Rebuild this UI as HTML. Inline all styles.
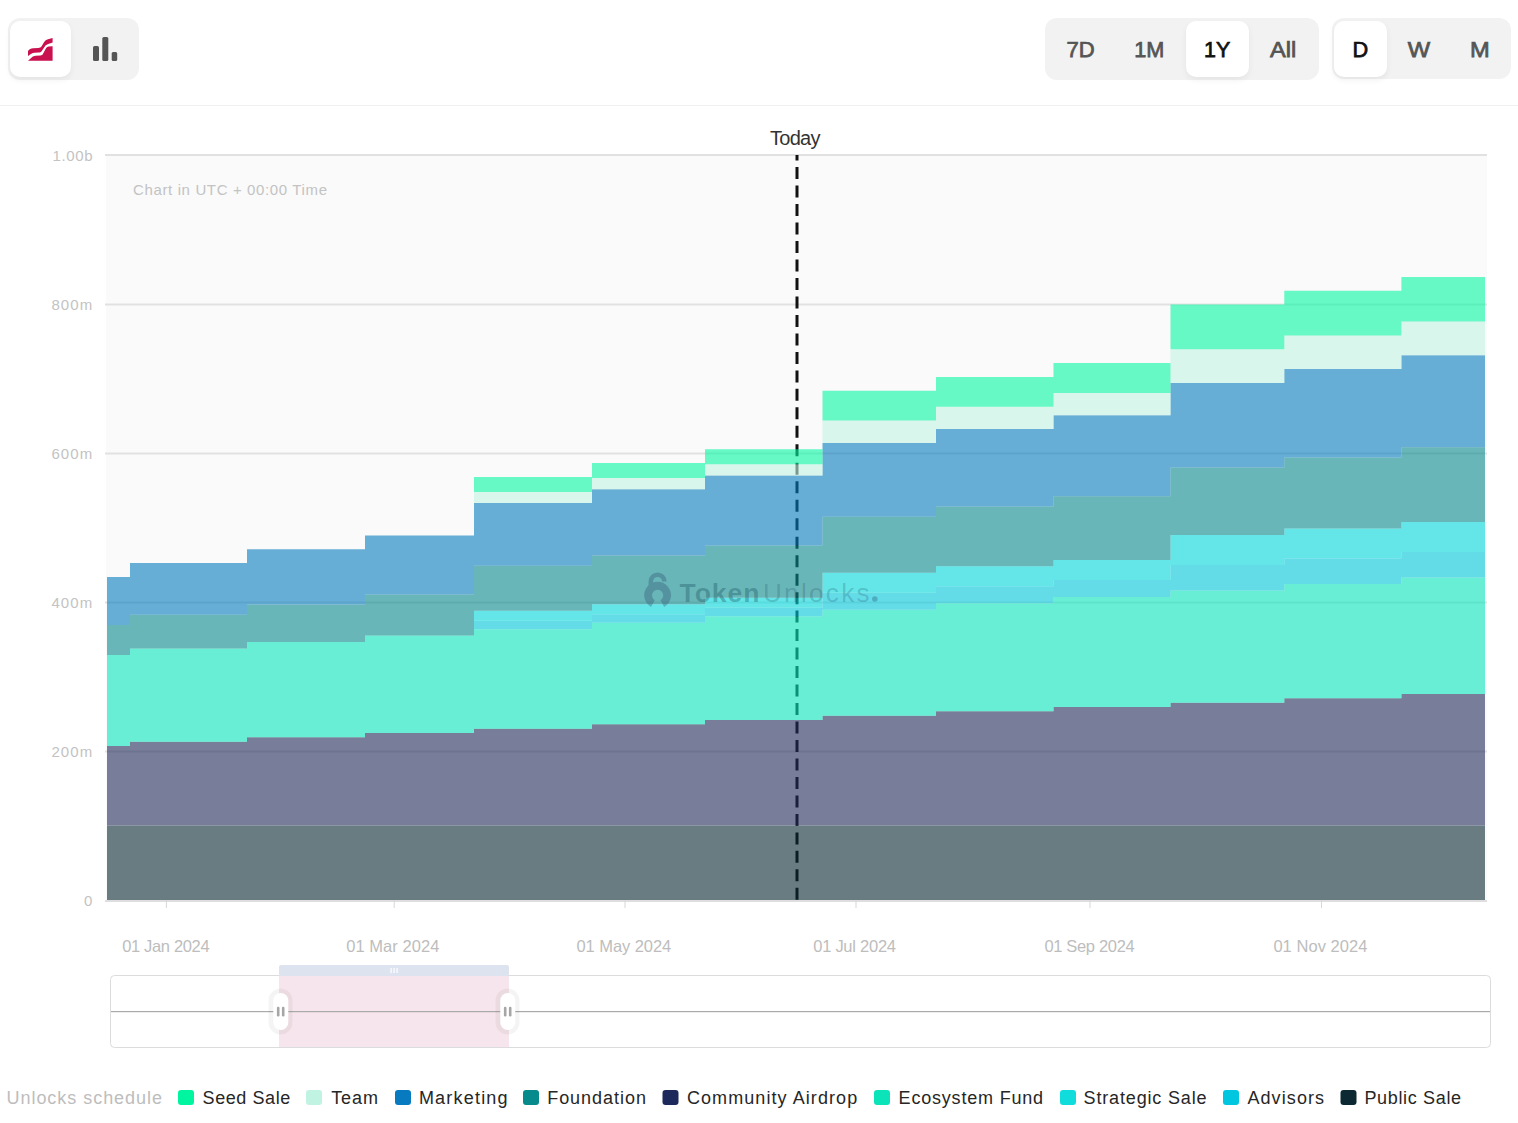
<!DOCTYPE html>
<html><head><meta charset="utf-8">
<style>
html,body{margin:0;padding:0;background:#fff;}
body{width:1518px;height:1123px;position:relative;overflow:hidden;font-family:"Liberation Sans",sans-serif;}
.grp{position:absolute;background:#f2f2f2;border-radius:12px;}
.sel{position:absolute;background:#fff;border-radius:10px;box-shadow:0 3px 6px rgba(0,0,0,0.06);}
.lbl{position:absolute;font-size:21px;font-weight:bold;color:#555;top:37px;line-height:24px;}
.lbl.on{color:#111;}
.sep{position:absolute;left:0;top:105px;width:1518px;height:1px;background:#efefef;}
svg{position:absolute;left:0;top:0;}
</style></head><body>
<div class="grp" style="left:8px;top:18px;width:131px;height:62px;"></div>
<div class="sel" style="left:10px;top:21px;width:61px;height:56px;"></div>
<svg width="1518" height="110" style="top:0">
<path fill="#c8114e" d="M28,51 C29.5,49.2 30.8,48.3 33,48.2 L38.3,48 C39.8,47.9 40.8,47.4 41.8,46 L44,42.2 C45,40.6 46.3,39.7 48,39.2 L52.6,38 L52.6,42.6 L48.2,44.1 C46.8,44.6 45.6,45.3 44.8,46.5 L41.6,51.2 C40.8,52.2 39.9,52.6 38.4,52.6 L34.5,52.7 C32.3,52.9 30.6,53.9 28,56 Z"/>
<path fill="#c8114e" d="M28,60.8 L32,57.2 C33.2,56.3 34.2,55.9 35.6,55.8 L40.6,55.5 C41.6,55.4 42.3,55 42.9,54 L45.6,49 C46.4,47.6 47.4,46.9 48.8,46.6 L52.6,46.2 L52.6,60.8 Z"/>
<rect x="93" y="46" width="6" height="15" rx="1.5" fill="#555"/>
<rect x="102.3" y="37" width="6" height="24" rx="1.5" fill="#555"/>
<rect x="111.7" y="52" width="5.5" height="9" rx="1.5" fill="#555"/>
</svg>
<div class="grp" style="left:1045px;top:18px;width:274px;height:62px;"></div>
<div class="sel" style="left:1186px;top:21px;width:63px;height:56px;"></div>
<div class="grp" style="left:1332px;top:18px;width:179px;height:61px;"></div>
<div class="sel" style="left:1334px;top:21px;width:53px;height:56px;"></div>
<svg width="1518" height="110" style="top:0">
<g font-family="Liberation Sans" font-size="22" stroke-width="0.75">
<text x="1066.5" y="56.6" textLength="28.2" lengthAdjust="spacingAndGlyphs" fill="#555" stroke="#555">7D</text>
<text x="1134.3" y="56.6" textLength="30.099999999999998" lengthAdjust="spacingAndGlyphs" fill="#555" stroke="#555">1M</text>
<text x="1204.1" y="56.6" textLength="26.2" lengthAdjust="spacingAndGlyphs" fill="#111" stroke="#111">1Y</text>
<text x="1270.0" y="56.6" textLength="26.2" lengthAdjust="spacingAndGlyphs" fill="#555" stroke="#555">All</text>
<text x="1352.5" y="56.6" textLength="15.700000000000001" lengthAdjust="spacingAndGlyphs" fill="#111" stroke="#111">D</text>
<text x="1407.8" y="56.6" textLength="22.4" lengthAdjust="spacingAndGlyphs" fill="#555" stroke="#555">W</text>
<text x="1470.1" y="56.6" textLength="19.7" lengthAdjust="spacingAndGlyphs" fill="#555" stroke="#555">M</text>
</g>
</svg>
<div class="sep"></div>

<svg width="1518" height="1123" style="top:0">
<rect x="106" y="156" width="1381" height="744" fill="#fafafa"/>
<rect x="105" y="154" width="1382" height="2" fill="#e1e1e1"/>
<rect x="105" y="303.5" width="1382" height="2" fill="#e1e1e1"/>
<rect x="105" y="452.5" width="1382" height="2" fill="#e1e1e1"/>
<rect x="105" y="601.5" width="1382" height="2" fill="#e1e1e1"/>
<rect x="105" y="750.5" width="1382" height="2" fill="#e1e1e1"/>
<line x1="797" y1="155" x2="797" y2="900" stroke="#111" stroke-width="3" stroke-dasharray="12 6.48" stroke-dashoffset="6.38"/>
<g fill-opacity="0.6">
<path fill="#072832" d="M107,825.5L130,825.5L130,825.5L247,825.5L247,825.5L365,825.5L365,825.5L474,825.5L474,825.5L592,825.5L592,825.5L705,825.5L705,825.5L822.5,825.5L822.5,825.5L936,825.5L936,825.5L1053.5,825.5L1053.5,825.5L1170.5,825.5L1170.5,825.5L1284.3,825.5L1284.3,825.5L1401.4,825.5L1401.4,825.5L1485,825.5L1485,900L107,900Z"/>
<path fill="#212b58" d="M107,746.0L130,746.0L130,741.7L247,741.7L247,737.3L365,737.3L365,733.0L474,733.0L474,728.7L592,728.7L592,724.3L705,724.3L705,720.0L822.5,720.0L822.5,715.7L936,715.7L936,711.3L1053.5,711.3L1053.5,707.0L1170.5,707.0L1170.5,702.7L1284.3,702.7L1284.3,698.3L1401.4,698.3L1401.4,694.0L1485,694.0L1485,825.5L1401.4,825.5L1401.4,825.5L1284.3,825.5L1284.3,825.5L1170.5,825.5L1170.5,825.5L1053.5,825.5L1053.5,825.5L936,825.5L936,825.5L822.5,825.5L822.5,825.5L705,825.5L705,825.5L592,825.5L592,825.5L474,825.5L474,825.5L365,825.5L365,825.5L247,825.5L247,825.5L130,825.5L130,825.5L107,825.5Z"/>
<path fill="#05e6bc" d="M107,655.0L130,655.0L130,648.5L247,648.5L247,642.1L365,642.1L365,635.6L474,635.6L474,629.2L592,629.2L592,622.7L705,622.7L705,616.3L822.5,616.3L822.5,609.8L936,609.8L936,603.3L1053.5,603.3L1053.5,596.9L1170.5,596.9L1170.5,590.4L1284.3,590.4L1284.3,584.0L1401.4,584.0L1401.4,577.5L1485,577.5L1485,694.0L1401.4,694.0L1401.4,698.3L1284.3,698.3L1284.3,702.7L1170.5,702.7L1170.5,707.0L1053.5,707.0L1053.5,711.3L936,711.3L936,715.7L822.5,715.7L822.5,720.0L705,720.0L705,724.3L592,724.3L592,728.7L474,728.7L474,733.0L365,733.0L365,737.3L247,737.3L247,741.7L130,741.7L130,746.0L107,746.0Z"/>
<path fill="#00c8dc" d="M107,655.0L130,655.0L130,648.5L247,648.5L247,642.1L365,642.1L365,635.6L474,635.6L474,620.7L592,620.7L592,614.2L705,614.2L705,607.8L822.5,607.8L822.5,592.8L936,592.8L936,586.3L1053.5,586.3L1053.5,579.9L1170.5,579.9L1170.5,564.9L1284.3,564.9L1284.3,558.5L1401.4,558.5L1401.4,552.0L1485,552.0L1485,577.5L1401.4,577.5L1401.4,584.0L1284.3,584.0L1284.3,590.4L1170.5,590.4L1170.5,596.9L1053.5,596.9L1053.5,603.3L936,603.3L936,609.8L822.5,609.8L822.5,616.3L705,616.3L705,622.7L592,622.7L592,629.2L474,629.2L474,635.6L365,635.6L365,642.1L247,642.1L247,648.5L130,648.5L130,655.0L107,655.0Z"/>
<path fill="#00d9dc" d="M107,655.0L130,655.0L130,648.5L247,648.5L247,642.1L365,642.1L365,635.6L474,635.6L474,610.7L592,610.7L592,604.2L705,604.2L705,597.8L822.5,597.8L822.5,572.8L936,572.8L936,566.3L1053.5,566.3L1053.5,559.9L1170.5,559.9L1170.5,534.9L1284.3,534.9L1284.3,528.5L1401.4,528.5L1401.4,522.0L1485,522.0L1485,552.0L1401.4,552.0L1401.4,558.5L1284.3,558.5L1284.3,564.9L1170.5,564.9L1170.5,579.9L1053.5,579.9L1053.5,586.3L936,586.3L936,592.8L822.5,592.8L822.5,607.8L705,607.8L705,614.2L592,614.2L592,620.7L474,620.7L474,635.6L365,635.6L365,642.1L247,642.1L247,648.5L130,648.5L130,655.0L107,655.0Z"/>
<path fill="#08898c" d="M107,625.0L130,625.0L130,614.8L247,614.8L247,604.6L365,604.6L365,594.4L474,594.4L474,565.7L592,565.7L592,555.5L705,555.5L705,545.4L822.5,545.4L822.5,516.7L936,516.7L936,506.5L1053.5,506.5L1053.5,496.3L1170.5,496.3L1170.5,467.6L1284.3,467.6L1284.3,457.4L1401.4,457.4L1401.4,447.2L1485,447.2L1485,522.0L1401.4,522.0L1401.4,528.5L1284.3,528.5L1284.3,534.9L1170.5,534.9L1170.5,559.9L1053.5,559.9L1053.5,566.3L936,566.3L936,572.8L822.5,572.8L822.5,597.8L705,597.8L705,604.2L592,604.2L592,610.7L474,610.7L474,635.6L365,635.6L365,642.1L247,642.1L247,648.5L130,648.5L130,655.0L107,655.0Z"/>
<path fill="#057bbe" d="M107,577.0L130,577.0L130,563.1L247,563.1L247,549.3L365,549.3L365,535.4L474,535.4L474,503.1L592,503.1L592,489.2L705,489.2L705,475.4L822.5,475.4L822.5,443.0L936,443.0L936,429.1L1053.5,429.1L1053.5,415.3L1170.5,415.3L1170.5,382.9L1284.3,382.9L1284.3,369.1L1401.4,369.1L1401.4,355.2L1485,355.2L1485,447.2L1401.4,447.2L1401.4,457.4L1284.3,457.4L1284.3,467.6L1170.5,467.6L1170.5,496.3L1053.5,496.3L1053.5,506.5L936,506.5L936,516.7L822.5,516.7L822.5,545.4L705,545.4L705,555.5L592,555.5L592,565.7L474,565.7L474,594.4L365,594.4L365,604.6L247,604.6L247,614.8L130,614.8L130,625.0L107,625.0Z"/>
<path fill="#c1f3e3" d="M107,577.0L130,577.0L130,563.1L247,563.1L247,549.3L365,549.3L365,535.4L474,535.4L474,491.9L592,491.9L592,478.0L705,478.0L705,464.2L822.5,464.2L822.5,420.6L936,420.6L936,406.7L1053.5,406.7L1053.5,392.9L1170.5,392.9L1170.5,349.3L1284.3,349.3L1284.3,335.5L1401.4,335.5L1401.4,321.6L1485,321.6L1485,355.2L1401.4,355.2L1401.4,369.1L1284.3,369.1L1284.3,382.9L1170.5,382.9L1170.5,415.3L1053.5,415.3L1053.5,429.1L936,429.1L936,443.0L822.5,443.0L822.5,475.4L705,475.4L705,489.2L592,489.2L592,503.1L474,503.1L474,535.4L365,535.4L365,549.3L247,549.3L247,563.1L130,563.1L130,577.0L107,577.0Z"/>
<path fill="#03f6a2" d="M107,577.0L130,577.0L130,563.1L247,563.1L247,549.3L365,549.3L365,535.4L474,535.4L474,477.0L592,477.0L592,463.1L705,463.1L705,449.3L822.5,449.3L822.5,390.8L936,390.8L936,376.9L1053.5,376.9L1053.5,363.1L1170.5,363.1L1170.5,304.6L1284.3,304.6L1284.3,290.8L1401.4,290.8L1401.4,276.9L1485,276.9L1485,321.6L1401.4,321.6L1401.4,335.5L1284.3,335.5L1284.3,349.3L1170.5,349.3L1170.5,392.9L1053.5,392.9L1053.5,406.7L936,406.7L936,420.6L822.5,420.6L822.5,464.2L705,464.2L705,478.0L592,478.0L592,491.9L474,491.9L474,535.4L365,535.4L365,549.3L247,549.3L247,563.1L130,563.1L130,577.0L107,577.0Z"/>
</g>
<rect x="107" y="825" width="1378" height="1" fill="#fff" fill-opacity="0.07"/>
<g font-family="Liberation Sans" font-size="15" fill="#c3c3c3">
<text x="52.6" y="160.8" textLength="39.9" lengthAdjust="spacing">1.00b</text>
<text x="51.400000000000006" y="310.3" textLength="40.9" lengthAdjust="spacing">800m</text>
<text x="51.400000000000006" y="459.3" textLength="40.9" lengthAdjust="spacing">600m</text>
<text x="51.400000000000006" y="608.3" textLength="40.9" lengthAdjust="spacing">400m</text>
<text x="51.400000000000006" y="757.3" textLength="40.9" lengthAdjust="spacing">200m</text>
<text x="84" y="906.3">0</text>
<text x="133" y="195" textLength="194" lengthAdjust="spacing">Chart in UTC + 00:00 Time</text>
</g>
<rect x="105" y="900" width="1382" height="2" fill="#dedede"/>
<rect x="165.9" y="900" width="1" height="8" fill="#d8d8d8"/>
<rect x="393.7" y="900" width="1" height="8" fill="#d8d8d8"/>
<rect x="624.5" y="900" width="1" height="8" fill="#d8d8d8"/>
<rect x="855.5" y="900" width="1" height="8" fill="#d8d8d8"/>
<rect x="1089.5" y="900" width="1" height="8" fill="#d8d8d8"/>
<rect x="1321.0" y="900" width="1" height="8" fill="#d8d8d8"/>
<g font-family="Liberation Sans" font-size="16.5" fill="#bdbdbd">
<text x="122.2" y="952.3" textLength="87.4" lengthAdjust="spacing">01 Jan 2024</text>
<text x="346.2" y="952.3" textLength="93.2" lengthAdjust="spacing">01 Mar 2024</text>
<text x="576.5" y="952.3" textLength="94.7" lengthAdjust="spacing">01 May 2024</text>
<text x="813.2" y="952.3" textLength="82.8" lengthAdjust="spacing">01 Jul 2024</text>
<text x="1044.4" y="952.3" textLength="90.3" lengthAdjust="spacing">01 Sep 2024</text>
<text x="1273.4" y="952.3" textLength="94" lengthAdjust="spacing">01 Nov 2024</text>
</g>
<text x="770" y="145" textLength="50.5" lengthAdjust="spacing" font-family="Liberation Sans" font-size="20" fill="#333">Today</text>
<g font-family="Liberation Sans">
<text x="679.5" y="601.8" textLength="80" lengthAdjust="spacing" font-weight="bold" font-size="26.5" fill="#0c4652" fill-opacity="0.32">Token</text>
<text x="763" y="601.8" textLength="106.5" lengthAdjust="spacing" font-size="26" fill="#184a62" fill-opacity="0.24">Unlocks</text>
<circle cx="874.8" cy="599" r="2.8" fill="#184a62" fill-opacity="0.3"/>
</g>
<g fill="none" stroke="#2a4a6e" opacity="0.32">
<path d="M652.9,603.5 A9.5,9.5 0 1 1 662.3,603.5" stroke-width="7.8"/>
<path d="M650.8,589 L650.8,581.5 A6.8,6.8 0 0 1 664.4,581.5" stroke-width="4.5"/>
</g>

<!-- navigator -->
<rect x="110.5" y="975.5" width="1380" height="72" rx="4" fill="#fff" stroke="#dcdcdc" stroke-width="1"/>
<rect x="279" y="976" width="230" height="71" fill="#f6e5ec"/>
<rect x="279" y="965" width="230" height="11" rx="2" fill="#dee3f0"/>
<rect x="111" y="1011" width="1379" height="1.2" fill="#aaa"/>
<g fill="#fff"><rect x="390.5" y="968" width="1.2" height="5"/><rect x="393.5" y="968" width="1.2" height="5"/><rect x="396.5" y="968" width="1.2" height="5"/></g>
<g>
<rect x="268.5" y="988.5" width="24" height="46" rx="12" fill="#000" fill-opacity="0.045"/>
<rect x="273.3" y="993" width="15" height="37" rx="7.5" fill="#fff"/>
<rect x="276.9" y="1006.8" width="2.6" height="9.6" rx="1.2" fill="#a6a6a6"/><rect x="281.9" y="1006.8" width="2.6" height="9.6" rx="1.2" fill="#a6a6a6"/>
<rect x="495.5" y="988.5" width="24" height="46" rx="12" fill="#000" fill-opacity="0.045"/>
<rect x="500.3" y="993" width="15" height="37" rx="7.5" fill="#fff"/>
<rect x="503.9" y="1006.8" width="2.6" height="9.6" rx="1.2" fill="#a6a6a6"/><rect x="508.9" y="1006.8" width="2.6" height="9.6" rx="1.2" fill="#a6a6a6"/>
</g>
<g font-family="Liberation Sans" font-size="18">
<text x="6.5" y="1104.2" textLength="155.5" lengthAdjust="spacing" fill="#bdbdbd">Unlocks schedule</text>
<rect x="178" y="1090" width="16" height="15" rx="3" fill="#00f5a0"/>
<text x="202.6" y="1104.2" textLength="87.60000000000001" lengthAdjust="spacing" fill="#262626">Seed Sale</text>
<rect x="306" y="1090" width="16" height="15" rx="3" fill="#c0f3e2"/>
<text x="331.2" y="1104.2" textLength="46.7" lengthAdjust="spacing" fill="#262626">Team</text>
<rect x="395" y="1090" width="16" height="15" rx="3" fill="#087bc0"/>
<text x="418.9" y="1104.2" textLength="88.7" lengthAdjust="spacing" fill="#262626">Marketing</text>
<rect x="523" y="1090" width="16" height="15" rx="3" fill="#078a8b"/>
<text x="547.2" y="1104.2" textLength="98.7" lengthAdjust="spacing" fill="#262626">Foundation</text>
<rect x="662.5" y="1090" width="16" height="15" rx="3" fill="#1e295b"/>
<text x="686.9" y="1104.2" textLength="170.29999999999998" lengthAdjust="spacing" fill="#262626">Community Airdrop</text>
<rect x="874" y="1090" width="16" height="15" rx="3" fill="#0be3b8"/>
<text x="898.6" y="1104.2" textLength="144.5" lengthAdjust="spacing" fill="#262626">Ecosystem Fund</text>
<rect x="1060" y="1090" width="16" height="15" rx="3" fill="#10dcdc"/>
<text x="1083.6" y="1104.2" textLength="122.9" lengthAdjust="spacing" fill="#262626">Strategic Sale</text>
<rect x="1223" y="1090" width="16" height="15" rx="3" fill="#00c6e0"/>
<text x="1247.4" y="1104.2" textLength="76.7" lengthAdjust="spacing" fill="#262626">Advisors</text>
<rect x="1340.5" y="1090" width="16" height="15" rx="3" fill="#0b2833"/>
<text x="1364.4" y="1104.2" textLength="96.7" lengthAdjust="spacing" fill="#262626">Public Sale</text>
</g>
</svg>
</body></html>
